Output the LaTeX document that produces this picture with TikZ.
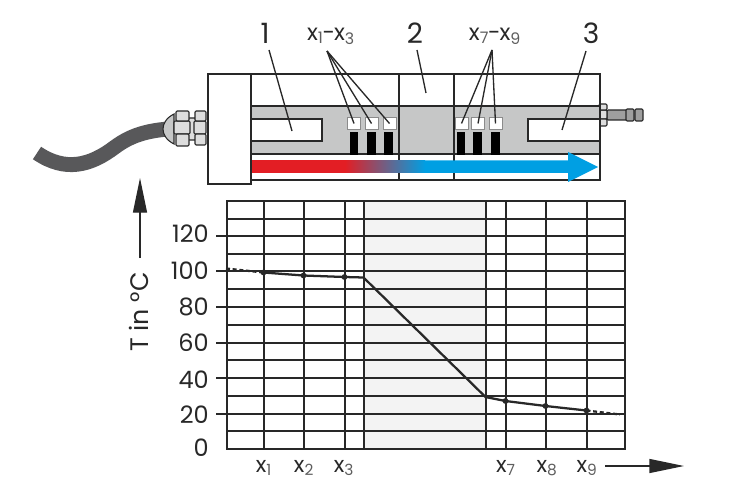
\documentclass[tikz,border=0pt]{standalone}
\usepackage{fontspec}
\setmainfont{Poppins}
\usepackage{xcolor}
\usetikzlibrary{
    arrows.meta,
    positioning,
    calc
}
\definecolor{inkgray}{RGB}{40, 40, 40}
\definecolor{bandgray}{RGB}{198, 199, 199}
\definecolor{cablegray}{RGB}{88, 88, 90}
\definecolor{flowred}{RGB}{227, 30, 36}
\definecolor{flowblue}{RGB}{0, 159, 227}
\definecolor{zonegray}{RGB}{243, 243, 243}
\newcommand{\sensorname}[1]{x\textcolor{inkgray!75}{\textsubscript{#1}}}
\newcommand{\sensorrange}[2]{\sensorname{#1}\kern-0.8pt-\kern-0.8pt\sensorname{#2}}

\begin{document}
\begin{tikzpicture}[
        x=0.75pt, y=-0.75pt,
        outline/.style={draw=inkgray, line width=1.5pt},
        gridline/.style={draw=inkgray, line width=1.5pt},
        leader/.style={draw=inkgray, line width=1pt},
        curveline/.style={draw=inkgray, line width=1.7pt},
        axisarrow/.style={draw=inkgray, line width=1pt, -{Triangle[length=26pt, width=10.5pt]}},
        metal/.style={draw=inkgray, line width=0.8pt, fill=bandgray!60, rounded corners=0.8pt},
        sensor/.style={draw=bandgray!70!black, line width=0.6pt, fill=white, minimum width=9.6pt, minimum height=9.6pt, inner sep=0pt},
        heater/.style={fill=black, draw=none, minimum width=6.4pt, minimum height=17pt, inner sep=0pt},
        partlabel/.style={text=inkgray, font=\fontsize{21}{21}\selectfont, inner sep=0pt},
        scalelabel/.style={text=inkgray, font=\fontsize{18}{18}\selectfont, inner sep=0pt, anchor=east},
        xlabel/.style={text=inkgray, font=\fontsize{16.5}{17}\selectfont, inner sep=0pt},
        rangelabel/.style={text=inkgray, font=\fontsize{17}{17}\selectfont, inner sep=0pt},
        marker/.style={circle, fill=inkgray, inner sep=0pt, minimum size=4.4pt}
    ]
        \useasboundingbox (0, 0) rectangle (755, 488);

        % Cable and gland
        \draw[cablegray, line width=11.2pt] (37, 153) .. controls (65, 172) and (90, 166) .. (115, 147) .. controls (130, 136) and (145, 131) .. (168, 129);
        \filldraw[metal, rounded corners=0pt, fill=bandgray] (174, 114) .. controls (166, 118) and (163, 124) .. (163, 129) .. controls (163, 134) and (166, 140) .. (174, 144) -- cycle;
        \filldraw[metal] (188, 118) rectangle (196, 140);
        \filldraw[metal] (174, 121) rectangle (190, 134);
        \filldraw[metal] (176, 111) rectangle (189, 121);
        \filldraw[metal] (176, 134) rectangle (189, 146);
        \filldraw[metal] (194, 121) rectangle (206, 134);
        \filldraw[metal] (195, 111) rectangle (206, 121);
        \filldraw[metal] (195, 134) rectangle (206, 145);

        % Hose fitting
        \filldraw[metal, fill=gray!75] (607, 110) rectangle (627, 120);
        \filldraw[metal, fill=gray!75] (626, 109) rectangle (634, 121);
        \filldraw[metal, fill=gray!75] (635, 109) rectangle (643, 121);
        \filldraw[metal] (599, 110) rectangle (607, 119);
        \filldraw[metal] (599, 104) rectangle (607, 110);
        \filldraw[metal] (599, 119) rectangle (607, 126);

        % Housing
        \fill[bandgray] (250, 106.5) rectangle (599.5, 154.5);
        \filldraw[outline, fill=white] (250.5, 119.5) -- (321.5, 119.5) -- (321.5, 141.5) -- (250.5, 141.5);
        \filldraw[outline, fill=white] (599.5, 119.5) -- (527.5, 119.5) -- (527.5, 141.5) -- (599.5, 141.5);
        \draw[outline] (250.5, 74.5) rectangle (599.5, 180.5);
        \draw[outline] (250.5, 106.5) -- (599.5, 106.5);
        \draw[outline] (250.5, 154.5) -- (599.5, 154.5);
        \draw[outline] (398.5, 74.5) -- (398.5, 180.5);
        \draw[outline] (453.5, 74.5) -- (453.5, 180.5);
        \filldraw[outline, fill=white] (207.5, 74.5) rectangle (250.5, 184.5);

        % Sensors
        \node[sensor] (s1) at (354, 123.5) {};
        \node[sensor] (s2) at (371.5, 123.5) {};
        \node[sensor] (s3) at (389.5, 123.5) {};
        \node[sensor] (s7) at (461.5, 123.5) {};
        \node[sensor] (s8) at (478, 123.5) {};
        \node[sensor] (s9) at (495.5, 123.5) {};

        % Heaters
        \node[heater] (h1) at (354, 143.5) {};
        \node[heater] (h2) at (371.5, 143.5) {};
        \node[heater] (h3) at (388.5, 143.5) {};
        \node[heater] (h7) at (461, 143.5) {};
        \node[heater] (h8) at (477.5, 143.5) {};
        \node[heater] (h9) at (495.5, 143.5) {};

        % Flow arrow
        \fill[flowred] (252, 160.5) rectangle (345, 173);
        \shade[left color=flowred, right color=flowblue] (345, 160.5) rectangle (425, 173);
        \fill[flowblue] (425, 160.5) -- (568, 160.5) -- (568, 152) -- (598, 167) -- (568, 182) -- (568, 173) -- (425, 173) -- cycle;

        % Part labels
        \node[partlabel] (one) at (265, 33) {1};
        \node[partlabel] (two) at (415, 33) {2};
        \node[partlabel] (three) at (591, 33) {3};
        \node[rangelabel] (xfirst) at (331, 36) {\sensorrange{1}{3}};
        \node[rangelabel] (xlast) at (495, 36) {\sensorrange{7}{9}};

        % Leaders
        \coordinate (xfirsttip) at (327, 51);
        \coordinate (xlasttip) at (492, 50);
        \coordinate (oneend) at (292, 131);
        \coordinate (twoend) at (426, 93);
        \coordinate (threeend) at (562, 130);
        \draw[leader] (269, 50) -- (oneend);
        \draw[leader] (417, 50) -- (twoend);
        \draw[leader] (586, 51) -- (threeend);
        \draw[leader] (xfirsttip) -- (s1.center);
        \draw[leader] (xfirsttip) -- (s2.center);
        \draw[leader] (xfirsttip) -- (s3.center);
        \draw[leader] (xlasttip) -- (s7.center);
        \draw[leader] (xlasttip) -- (s8.center);
        \draw[leader] (xlasttip) -- (s9.center);

        % Chart
        \fill[zonegray] (363.5, 200.5) rectangle (485.5, 448.5);
        \foreach \row in {218.5,235.5,253.5,270.5,288.5,306.5,324.5,342.5,359.5,377.5,395.5,413.5,430.5} {
            \draw[gridline] (226, \row) -- (625, \row);
        }
        \foreach \row in {235.5,270.5,306.5,342.5,377.5,413.5} {
            \draw[gridline] (216, \row) -- (226, \row);
        }
        \foreach \col in {263.5,303.5,344.5,363.5,485.5,505.5,545.5,586.5} {
            \draw[gridline] (\col, 200.5) -- (\col, 448.5);
        }
        \draw[outline] (226.5, 200.5) rectangle (624.5, 448.5);

        % Temperature curve
        \node[marker] (p1) at (263.5, 272.5) {};
        \node[marker] (p2) at (303.5, 275.5) {};
        \node[marker] (p3) at (344.5, 277) {};
        \node[marker] (p7) at (505.5, 401) {};
        \node[marker] (p8) at (545.5, 406) {};
        \node[marker] (p9) at (586.5, 410.5) {};
        \coordinate (bendtop) at (363.5, 277.5);
        \coordinate (bendlow) at (485.5, 397);
        \coordinate (startdash) at (226, 268.5);
        \coordinate (enddash) at (620, 414.5);
        \draw[curveline, densely dashed] (startdash) -- (p1.center);
        \draw[curveline] (p1.center) -- (p2.center) -- (p3.center) -- (bendtop) -- (bendlow) -- (p7.center) -- (p8.center) -- (p9.center);
        \draw[curveline, densely dashed] (p9.center) -- (enddash);

        % Scale
        \node[scalelabel] (t120) at (209, 234) {120};
        \node[scalelabel] (t100) at (209, 271) {100};
        \node[scalelabel] (t80) at (209, 307) {80};
        \node[scalelabel] (t60) at (209, 343) {60};
        \node[scalelabel] (t40) at (209, 380) {40};
        \node[scalelabel] (t20) at (209, 415) {20};
        \node[scalelabel] (t0) at (209, 448) {0};

        \node[xlabel] (x1) at (264, 468) {\sensorname{1}};
        \node[xlabel] (x2) at (304, 468) {\sensorname{2}};
        \node[xlabel] (x3) at (344, 468) {\sensorname{3}};
        \node[xlabel] (x7) at (506, 468) {\sensorname{7}};
        \node[xlabel] (x8) at (547, 468) {\sensorname{8}};
        \node[xlabel] (x9) at (587, 468) {\sensorname{9}};

        % Axis arrows
        \node[rangelabel, font=\fontsize{19}{19}\selectfont, rotate=90] (tname) at (139, 312) {T in °C};
        \coordinate (ytail) at (140, 258);
        \coordinate (yhead) at (140, 178);
        \coordinate (xtail) at (605, 466);
        \coordinate (xhead) at (684, 466);
        \draw[axisarrow] (ytail) -- (yhead);
        \draw[axisarrow] (xtail) -- (xhead);
    \end{tikzpicture}
\end{document}
